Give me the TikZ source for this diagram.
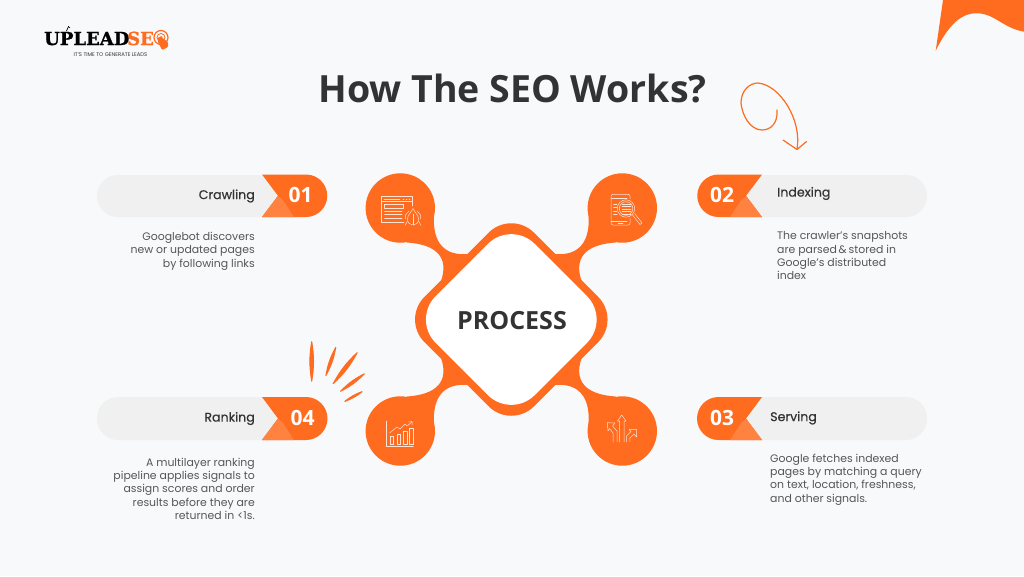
\documentclass[tikz,border=0pt]{standalone}
\usepackage{fontspec}
\setmainfont{Poppins}
\newfontfamily\openb{Open Sans}
\newfontfamily\headingfont[FakeBold=0.5]{Poppins}
\newfontfamily\logofont[FakeBold=1.2]{DejaVu Serif}
\definecolor{bgc}{HTML}{F8F9FA}
\definecolor{org}{HTML}{FF6B1F}
\definecolor{orgl}{HTML}{FF8240}
\definecolor{pillc}{HTML}{F0F0F0}
\definecolor{ink}{HTML}{333333}
\definecolor{bodyc}{HTML}{565656}
\definecolor{icoc}{HTML}{FFE3D3}
\tikzset{
  x=1pt,y=-1pt,
  titletxt/.style={inner sep=0,font=\openb\bfseries\fontsize{37.5}{40}\selectfont,text=ink},
  hubtxt/.style={inner sep=0,font=\openb\bfseries\fontsize{25}{28}\selectfont,text=ink},
  numtxt/.style={inner sep=0,font=\openb\bfseries\fontsize{21}{24}\selectfont,text=white},
  headtxt/.style={inner sep=0,font=\headingfont\fontsize{12.6}{15}\selectfont,text=ink},
  rbody/.style={inner sep=0,anchor=north east,align=right,font=\fontsize{10.9}{13.35}\selectfont,text=bodyc},
  lbody/.style={inner sep=0,anchor=north west,align=left,font=\fontsize{10.9}{13.35}\selectfont,text=bodyc},
  ico/.style={draw=icoc,line width=.5pt,line join=round,line cap=round},
  burst/.style={fill=org,draw=org,line width=1pt,line join=round},
}
\newcommand{\leaf}[2]{\filldraw[burst] #1 to[bend left=9] #2 to[bend left=9] #1;}
\newcommand{\neck}[2]{%
  \begin{scope}[shift={(511.3,319.5)},xscale=#1,yscale=#2]
    \fill[org] (-77.3,-104.5) .. controls (-79,-76) and (-66.3,-63.5) .. (-43.3,-65.5)
      -- (0,0) -- (-70.3,-38.5) .. controls (-62.3,-61.5) and (-74,-75) .. (-104.3,-77) -- (-111,-111) -- cycle;
    \fill[org] (-111,-111.5) circle[radius=34.7];
  \end{scope}}
\begin{document}
\begin{tikzpicture}
\fill[bgc] (0,0) rectangle (1024,576);
\useasboundingbox (0,0) rectangle (1024,576);

% corner
\fill[org] (943,0) -- (935.7,50.7) .. controls (945,32) and (958,12) .. (978,13.3)
  .. controls (995,14) and (1003,28) .. (1024,31.7) -- (1024,0) -- cycle;

% logo
\node[inner sep=0,anchor=base west,font=\logofont\bfseries\fontsize{18}{20}\selectfont] (logoa) at (44,45) {UPLEAD};
\node[inner sep=0,anchor=base west,font=\logofont\bfseries\fontsize{18}{20}\selectfont,text=org] (logob) at (127,45) {SE};
\node[inner sep=0,font=\fontsize{5.3}{6}\selectfont,text=ink] (logoc) at (110.5,54.5) {IT'S TIME TO GENERATE LEADS};
\draw[line width=.7pt] (66.5,31) -- (68.5,26.5) -- (70,28);
\draw[org,line width=1.2pt] (161,37.5) circle[radius=7];
\draw[org,line width=.8pt] (161,37.5) circle[radius=4];
\fill[org] (161,37.5) circle[radius=1.5];
\fill[org,rounded corners=1pt] (158,37) -- (161,37) -- (168,42) -- (168,47) -- (162,50) -- (158,42) -- cycle;

% title
\node[titletxt] (title) at (512.5,88) {How The SEO Works?};

% curly arrow
\draw[org,line width=1.2pt,line cap=round,line join=round] (777,110) .. controls (778,124) and (770,130) .. (762,130)
  .. controls (750,130) and (742,115) .. (741,103)
  .. controls (741,90) and (750,83) .. (758,83)
  .. controls (780,85) and (802,120) .. (797,149);
\draw[org,line width=1.2pt,line cap=round,line join=round] (783,140) -- (797,149.5) -- (806.5,141.5);

% bursts
\leaf{(311.7,341.5)}{(311.7,381.2)}
\leaf{(335.8,347.2)}{(325.9,375.5)}
\leaf{(357.3,352.5)}{(333.1,383.8)}
\leaf{(364.5,373.7)}{(340.5,391.3)}
\leaf{(362.2,391.6)}{(344.8,401.4)}

% hub
\neck{1}{1}\neck{-1}{1}\neck{1}{-1}\neck{-1}{-1}
\fill[org,rounded corners=32pt] (511.3,210) -- (620.8,319.5) -- (511.3,429) -- (401.8,319.5) -- cycle;
\fill[white,rounded corners=33pt] (511.3,220.5) -- (610.3,319.5) -- (511.3,418.5) -- (412.3,319.5) -- cycle;
\node[hubtxt] (hub) at (512,320.5) {PROCESS};

% pills
\fill[pillc,rounded corners=21pt] (97,175) rectangle (300,217);
\fill[pillc,rounded corners=21pt] (97,397) rectangle (300,440);
\fill[pillc,rounded corners=21pt] (725,175) rectangle (927,217);
\fill[pillc,rounded corners=21pt] (725,397) rectangle (927,440);

% left orange tabs
\fill[org] (262,174.5) -- (306,174.5) arc[start angle=-90,end angle=90,radius=21.25] -- (262,217) -- (278,195.8) -- cycle;
\fill[orgl] (262,217) -- (278,195.8) -- (283,200) -- (294,217) -- cycle;
\fill[org] (262,397) -- (306,397) arc[start angle=-90,end angle=90,radius=21.5] -- (262,440) -- (278,418.5) -- cycle;
\fill[orgl] (262,440) -- (278,418.5) -- (283,423) -- (294,440) -- cycle;
% right orange tabs
\fill[org] (762,174.5) -- (718.5,174.5) arc[start angle=-90,end angle=-270,radius=21.25] -- (762,217) -- (746,195.8) -- cycle;
\fill[orgl] (762,217) -- (746,195.8) -- (741,200) -- (730,217) -- cycle;
\fill[org] (762,397) -- (718.5,397) arc[start angle=-90,end angle=-270,radius=21.5] -- (762,440) -- (746,418.5) -- cycle;
\fill[orgl] (762,440) -- (746,418.5) -- (741,423) -- (730,440) -- cycle;

% numbers
\node[numtxt] (n1) at (300.5,195) {01};
\node[numtxt] (n2) at (722,195) {02};
\node[numtxt] (n3) at (722,418) {03};
\node[numtxt] (n4) at (302.5,418) {04};

% headings
\node[headtxt,anchor=east] (h1) at (255,196) {Crawling};
\node[headtxt,anchor=west] (h2) at (777,193.5) {Indexing};
\node[headtxt,anchor=west] (h3) at (770,418) {Serving};
\node[headtxt,anchor=east] (h4) at (255,418.5) {Ranking};

% bodies
\node[rbody] (b1) at (255,232) {Googlebot discovers\\new or updated pages\\by following links};
\node[lbody] (b2) at (777,231.5) {The crawler’s snapshots\\are parsed\,\&\,stored in\\Google’s distributed\\index};
\node[lbody] (b3) at (770,453.5) {Google fetches indexed\\pages by matching a query\\on text, location, freshness,\\and other signals.};
\node[rbody] (b4) at (255,457.5) {A multilayer ranking\\pipeline applies signals to\\assign scores and order\\results before they are\\returned in <1s.};

% icon 1: browser + bug
\begin{scope}[ico]
\draw (404,222.3) -- (381.7,222.3) -- (381.7,196.7) -- (412.3,196.7) -- (412.3,206);
\draw (381.7,201) -- (412.3,201);
\draw (384,198.8) -- (400,198.8);
\draw (403,198.8) -- (404,198.8) (406,198.8) -- (407,198.8) (409,198.8) -- (410,198.8);
\draw (384.5,204) rectangle (403,208);
\foreach \yy in {211,214.5,218}{\draw (384.5,\yy) -- (402,\yy);}
\draw[fill=org] (413,208.5) .. controls (415,213) and (418.5,215) .. (418.5,219) .. controls (418.5,223) and (416,225) .. (413,225) .. controls (410,225) and (407.5,223) .. (407.5,219) .. controls (407.5,215) and (411,213) .. (413,208.5) -- cycle;
\draw (413,214) -- (413,225);
\draw (409,211) -- (405.5,215) -- (405.5,219) (417,211) -- (420.5,215) -- (420.5,219);
\draw (407.5,221) -- (405,225.5) (418.5,221) -- (421,225.5);
\end{scope}

% icon 2: phone + magnifier
\begin{scope}[ico]
\draw[rounded corners=2pt] (630,199) -- (630,194.3) -- (611,194.3) -- (611,225) -- (630,225) -- (630,218.5);
\draw (611,198) -- (627,198) (611,221) -- (627,221);
\draw (618,223) -- (623,223);
\draw (626,208.5) circle[radius=8.7];
\draw (626,208.5) circle[radius=6.8];
\foreach \yy in {204,206.5,209,211.5,214}{\draw (622,\yy) -- (631,\yy);}
\foreach \yy in {204,207.5,211,214.5}{\draw (613.5,\yy) -- (617,\yy);}
\draw (632.5,215) -- (640,224.5) -- (642,222.8) -- (634.5,213.5);
\end{scope}

% icon 3: chart
\begin{scope}[ico]
\draw (386.7,421) -- (386.7,446.7) -- (413.3,446.7);
\draw (390,444) rectangle (393.5,436.5);
\draw (397,444) rectangle (400.5,434);
\draw (403.5,444) rectangle (407,431.5);
\draw (409.5,444) rectangle (413,428);
\draw (389.5,433) -- (397,427) -- (400,429) -- (405,424) -- (407,426) -- (412,422);
\draw (408.5,422) -- (412,421.5) -- (412,425);
\end{scope}

% icon 4: arrows
\begin{scope}[ico]
\draw (619.5,442) -- (619.5,421) -- (617.5,421) -- (621.7,415) -- (626,421) -- (624,421) -- (624,442);
\draw (613,442) -- (613,433) -- (609.5,428.5) -- (608,431) -- (607.3,422.7) -- (615,423) -- (612.5,426) -- (617,431) -- (617,442);
\draw (626.5,442) -- (626.5,436) -- (631,431.5) -- (629,429.5) -- (636.7,429.5) -- (636.5,437) -- (634,434) -- (629.8,438) -- (629.8,442);
\end{scope}
\end{tikzpicture}
\end{document}
